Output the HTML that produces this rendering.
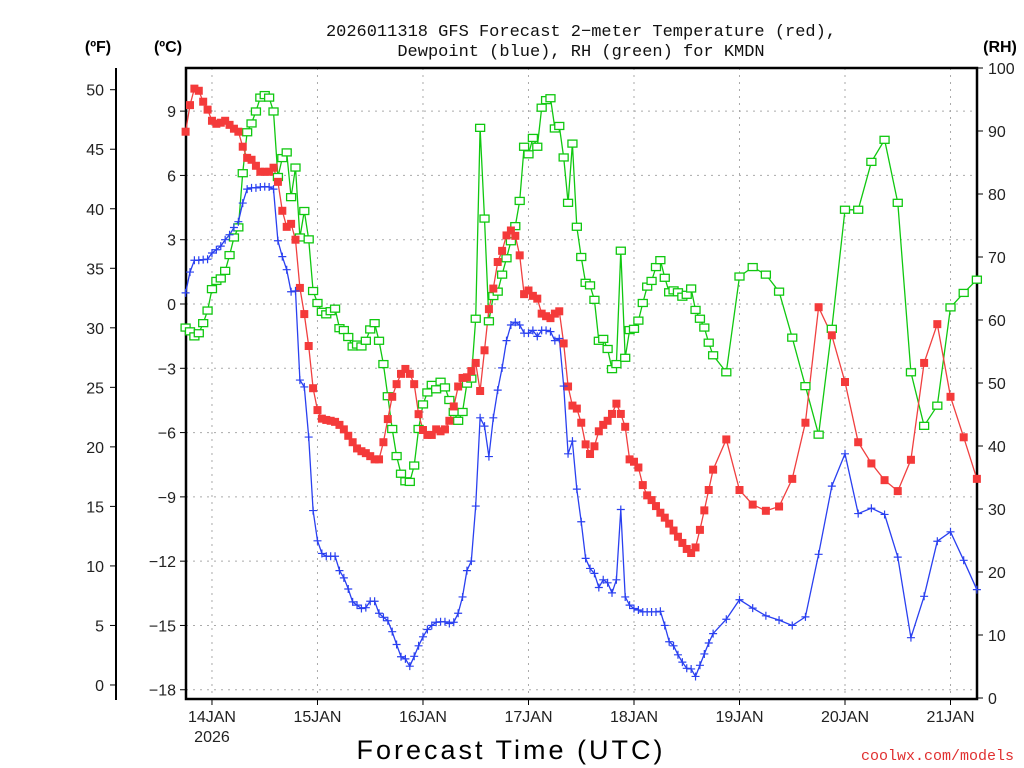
<!DOCTYPE html>
<html><head><meta charset="utf-8">
<style>
html,body{margin:0;padding:0;background:#fff;}
svg{display:block;font-family:"Liberation Sans",sans-serif;}
</style></head>
<body>
<svg id="chart" width="1024" height="768" viewBox="0 0 1024 768" xmlns="http://www.w3.org/2000/svg">
<text x="581" y="36" font-size="17" text-anchor="middle" fill="#111" font-family="Liberation Mono, monospace">2026011318 GFS Forecast 2−meter Temperature (red),</text>
<text x="581" y="56" font-size="17" text-anchor="middle" fill="#111" font-family="Liberation Mono, monospace">Dewpoint (blue), RH (green) for KMDN</text>
<text x="98" y="52" font-size="16" font-weight="bold" text-anchor="middle" fill="#000">(ºF)</text>
<text x="168" y="52" font-size="16" font-weight="bold" text-anchor="middle" fill="#000">(ºC)</text>
<text x="1000" y="52" font-size="16" font-weight="bold" text-anchor="middle" fill="#000">(RH)</text>
<text x="511" y="759" font-size="27" text-anchor="middle" fill="#000" letter-spacing="3">Forecast Time (UTC)</text>
<text x="1014" y="760" font-size="15" text-anchor="end" fill="#e03030" font-family="Liberation Mono, monospace">coolwx.com/models</text>
<g id="grid"></g>
<g id="axes"></g>
<g id="series"></g>
</svg>
<script>
// categories: forecast hour offsets from 2026-01-13 18Z
const hours = [];
for (let h = 0; h <= 120; h++) hours.push(h);
for (let h = 123; h <= 180; h += 3) hours.push(h);

const tempC = [8.04,9.28,10.05,9.95,9.44,9.07,8.55,8.41,8.46,8.55,8.36,8.18,8.04,7.34,6.82,6.73,6.45,6.17,6.17,6.17,6.36,5.7,4.35,3.6,3.74,3.0,0.75,-0.47,-1.96,-3.93,-4.95,
-5.35,-5.41,-5.45,-5.5,-5.64,-5.85,-6.15,-6.45,-6.74,-6.87,-6.96,-7.1,-7.25,-7.25,-6.45,-5.37,-4.33,-3.74,-3.26,-3.03,-3.26,-3.74,-5.14,-5.88,-6.11,-6.11,-5.85,-5.94,-5.85,-5.45,
-4.78,-3.85,-3.45,-3.42,-3.13,-2.75,-4.06,-2.16,-0.24,0.72,1.96,2.48,3.2,3.43,3.18,2.27,0.46,0.63,0.38,0.25,-0.45,-0.57,-0.66,-0.45,-0.34,-1.84,-3.85,-4.74,-4.88,-5.54,-6.55,-7.0,
-6.64,-5.94,-5.64,-5.45,-5.13,-4.65,-5.13,-5.73,-7.25,-7.36,-7.63,-8.45,-8.93,-9.15,-9.43,-9.74,-9.97,-10.25,-10.57,-10.86,-11.15,-11.43,-11.62,-11.36,-10.54,-9.63,-8.68,-7.73,
-6.32,-8.68,-9.36,-9.65,-9.45,-8.16,-5.54,-0.15,-1.46,-3.64,-6.45,-7.44,-8.22,-8.73,-7.27,-2.75,-0.94,-4.33,-6.22,-8.16];

const dewC = [0.52,1.49,2.04,2.04,2.07,2.09,2.38,2.53,2.7,3.0,3.23,3.57,3.84,4.71,5.36,5.42,5.42,5.46,5.48,5.46,5.36,2.95,2.21,1.6,0.57,0.61,-3.55,-3.87,-6.21,-9.64,-11.05,
-11.64,-11.77,-11.77,-11.77,-12.44,-12.78,-13.3,-13.9,-14.05,-14.21,-14.17,-13.87,-13.87,-14.43,-14.62,-14.78,-15.29,-15.89,-16.46,-16.56,-16.9,-16.44,-15.95,-15.53,-15.19,-15.0,-14.85,-14.83,-14.83,-14.91,-14.85,
-14.43,-13.67,-12.44,-12.0,-9.43,-5.31,-5.7,-7.12,-5.31,-4.02,-2.98,-1.71,-0.98,-0.85,-0.98,-1.36,-1.36,-1.23,-1.51,-1.23,-1.23,-1.29,-1.71,-1.61,-3.83,-6.99,-6.4,-8.64,-10.16,-11.87,-12.34,
-12.57,-13.23,-12.87,-13.01,-13.48,-12.87,-9.59,-13.67,-14.05,-14.21,-14.28,-14.37,-14.37,-14.37,-14.37,-14.34,-15.0,-15.76,-15.95,-16.37,-16.71,-17.0,-17.03,-17.38,-16.86,-16.33,-15.82,-15.38,
-14.71,-13.8,-14.19,-14.55,-14.75,-15.0,-14.6,-11.68,-8.5,-6.99,-9.78,-9.53,-9.82,-11.81,-15.57,-13.64,-11.07,-10.63,-11.96,-13.33];

const rh = [58.8,58.2,57.4,57.9,59.5,61.5,64.9,66.2,66.6,67.8,70.3,73.1,74.7,83.3,89.8,91.2,93.1,95.3,95.7,95.3,93.1,82.7,85.7,86.6,79.5,84.2,73.1,77.3,72.8,64.6,
62.7,61.3,60.9,61.4,61.8,58.7,58.4,57.3,55.8,56.1,55.8,56.7,58.5,59.5,56.7,53.0,47.9,42.7,38.4,35.6,34.4,34.3,36.9,42.7,46.6,48.5,49.7,49.0,50.2,49.3,47.3,45.4,
44.0,45.4,49.9,50.7,60.2,90.5,76.1,59.8,63.8,64.5,67.2,69.8,72.5,74.9,78.9,87.5,86.3,88.9,87.5,93.7,94.9,95.2,90.4,90.8,85.8,78.6,88.0,74.8,70.0,65.9,65.5,
63.2,56.7,57.0,55.4,52.2,53.0,71.0,54.0,58.4,58.6,59.9,62.7,65.3,66.2,68.4,69.5,66.7,64.4,64.7,64.4,63.7,64.0,65.0,61.6,60.2,58.8,56.4,54.4,
51.7,66.9,68.4,67.2,64.5,57.2,49.5,41.8,58.6,77.5,77.5,85.1,88.6,78.6,51.7,43.2,46.4,62.0,64.3,66.4];

const dayLabels = ["14JAN","15JAN","16JAN","17JAN","18JAN","19JAN","20JAN","21JAN"];
const dayHours = [6,30,54,78,102,126,150,174];
const cTicks = [9,6,3,0,-3,-6,-9,-12,-15,-18];
const fTicks = [50,45,40,35,30,25,20,15,10,5,0];
const rhTicks = [100,90,80,70,60,50,40,30,20,10,0];

const NS = "http://www.w3.org/2000/svg";
const L = 186, R = 977, T = 68, B = 699;
const xOf = h => 185.6 + h * 4.396;
const yC = c => 304 - c * 21.43;
const yF = f => yC((f - 32) * 5 / 9);
const yRH = r => 698 - r * 6.3;
function mk(tag, attrs, parent, txt) {
  const e = document.createElementNS(NS, tag);
  for (const k in attrs) e.setAttribute(k, attrs[k]);
  if (txt !== undefined) e.textContent = txt;
  parent.appendChild(e);
  return e;
}
const grid = document.getElementById('grid');
const axes = document.getElementById('axes');
const series = document.getElementById('series');

cTicks.forEach(c => {
  const g = mk('line', {x1: L, x2: R, y1: yC(c), y2: yC(c), stroke: '#aaa', 'stroke-width': 1, 'stroke-dasharray': '2,5'}, grid);
  
  
});
dayHours.forEach(h => {
  const g = mk('line', {x1: xOf(h), x2: xOf(h), y1: T, y2: B, stroke: '#aaa', 'stroke-width': 1, 'stroke-dasharray': '2,5'}, grid);
  
  
});

const frame = mk('rect', {x: L, y: T, width: R - L, height: B - T, fill: 'none', stroke: '#000', 'stroke-width': 2.5}, axes);



cTicks.forEach(c => {
  const t = mk('line', {x1: L - 6, x2: L, y1: yC(c), y2: yC(c), stroke: '#000', 'stroke-width': 1}, axes);
  
  
  const lb = mk('text', {x: L - 10, y: yC(c) + 6, 'font-size': 16, 'text-anchor': 'end', fill: '#222'}, axes, c < 0 ? '\u2212' + Math.abs(c) : String(c));
  
  
});
const fax = mk('line', {x1: 116, x2: 116, y1: T, y2: 700, stroke: '#000', 'stroke-width': 2}, axes);


fTicks.forEach(f => {
  const t = mk('line', {x1: 110, x2: 116, y1: yF(f), y2: yF(f), stroke: '#000', 'stroke-width': 1}, axes);
  
  
  const lb = mk('text', {x: 104, y: yF(f) + 6, 'font-size': 16, 'text-anchor': 'end', fill: '#222'}, axes, String(f));
  
  
});
rhTicks.forEach(r => {
  const t = mk('line', {x1: R, x2: R + 6, y1: yRH(r), y2: yRH(r), stroke: '#000', 'stroke-width': 1}, axes);
  
  
  const lb = mk('text', {x: 988, y: yRH(r) + 6, 'font-size': 16, 'text-anchor': 'start', fill: '#222'}, axes, String(r));
  
  
});
dayHours.forEach((h, i) => {
  const t = mk('line', {x1: xOf(h), x2: xOf(h), y1: B, y2: B + 6, stroke: '#000', 'stroke-width': 1}, axes);
  
  
  const lb = mk('text', {x: xOf(h), y: 722, 'font-size': 16, 'text-anchor': 'middle', fill: '#222'}, axes, dayLabels[i]);
  
  
});
const yr = mk('text', {x: xOf(6), y: 742, 'font-size': 16, 'text-anchor': 'middle', fill: '#222'}, axes, '2026');



function pts(vals, yf) { return hours.map((h, i) => xOf(h).toFixed(1) + ',' + yf(vals[i]).toFixed(1)).join(' '); }

const gl = mk('polyline', {points: pts(rh, yRH), fill: 'none', stroke: '#10c810', 'stroke-width': 1.3}, series);


const rl = mk('polyline', {points: pts(tempC, yC), fill: 'none', stroke: '#f04040', 'stroke-width': 1.3}, series);


const bl = mk('polyline', {points: pts(dewC, yC), fill: 'none', stroke: '#2a40f0', 'stroke-width': 1.3}, series);



hours.forEach((h, i) => {
  const x = xOf(h);
  const g = mk('rect', {x: x - 4.5, y: yRH(rh[i]) - 3.5, width: 9, height: 7, fill: '#fff', stroke: '#10c810', 'stroke-width': 1.3}, series);
  
  
});
hours.forEach((h, i) => {
  const x = xOf(h), y = yC(tempC[i]);
  const r = mk('rect', {x: x - 4, y: y - 4, width: 8, height: 8, fill: '#f43a3a'}, series);
  
  
});
hours.forEach((h, i) => {
  const x = xOf(h), y = yC(dewC[i]);
  const p = mk('path', {d: `M${x - 4},${y}H${x + 4}M${x},${y - 4}V${y + 4}`, stroke: '#2a40f0', 'stroke-width': 1.2, fill: 'none'}, series);
  
  
});
</script>
</body></html>
